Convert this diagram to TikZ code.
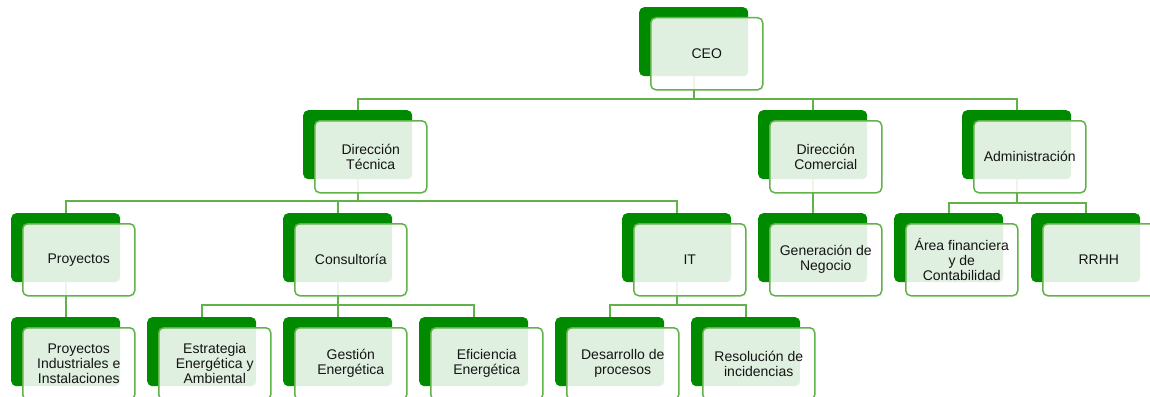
\documentclass[tikz,border=0pt]{standalone}
\usepackage{fontspec}
\setmainfont{Liberation Sans}
\definecolor{darkgr}{RGB}{0,138,0}
\definecolor{linegr}{RGB}{98,178,74}
\definecolor{txtgray}{RGB}{20,20,20}
\tikzset{
  backbox/.style={anchor=north west, minimum width=109pt, minimum height=69pt,
    rounded corners=5pt, fill=darkgr, inner sep=0pt},
  frontbox/.style={anchor=north west, minimum width=112pt, minimum height=72pt,
    rounded corners=5pt, draw=linegr, line width=1.5pt, fill=white,
    fill opacity=0.88, text opacity=1, align=center, text=txtgray, inner sep=0pt,
    font=\fontsize{14}{15}\selectfont},
  link/.style={draw=linegr, line width=1.6pt}
}
% back plate of a box
\newcommand\orgback[3]{\node[backbox] (#1) at (#2,#3) {};}
% front card of a box, shifted down-right from its plate
\newcommand\orgfront[2]{\node[frontbox] (#1-f) at ([xshift=11pt,yshift=-10pt]#1.north west) {#2};}
\begin{document}
\begin{tikzpicture}[x=1pt,y=-1pt]
\useasboundingbox (0,0) rectangle (1150,396);
\fill[white] (0,0) rectangle (1150,396);

% plates
\orgback{ceo}{639}{7}
\orgback{dt}{303}{110}
\orgback{dc}{758}{110}
\orgback{adm}{962}{110}
\orgback{proy}{11}{213}
\orgback{cons}{283}{213}
\orgback{it}{622}{213}
\orgback{gen}{758}{213}
\orgback{afc}{894}{213}
\orgback{rrhh}{1031}{213}
\orgback{pii}{11}{317}
\orgback{est}{147}{317}
\orgback{ges}{283}{317}
\orgback{efi}{419}{317}
\orgback{des}{555}{317}
\orgback{res}{691}{317}

% bus levels
\coordinate (bus0) at (0,99);
\coordinate (bus1) at (0,201);
\coordinate (bus1b) at (0,203);
\coordinate (bus2) at (0,305);

% connectors
\draw[link] (ceo.south) -- (ceo.south |- bus0) -| (dt.north);
\draw[link] (ceo.south |- bus0) -| (dc.north);
\draw[link] (ceo.south |- bus0) -| (adm.north);
\draw[link] (dt.south) -- (dt.south |- bus1) -| (proy.north);
\draw[link] (dt.south |- bus1) -| (cons.north);
\draw[link] (dt.south |- bus1) -| (it.north);
\draw[link] (dc.south) -- (gen.north);
\draw[link] (adm.south) -- (adm.south |- bus1b) -| (afc.north);
\draw[link] (adm.south |- bus1b) -| (rrhh.north);
\draw[link] (proy.south) -- (pii.north);
\draw[link] (cons.south) -- (cons.south |- bus2) -| (est.north);
\draw[link] (cons.south |- bus2) -| (ges.north);
\draw[link] (cons.south |- bus2) -| (efi.north);
\draw[link] (it.south) -- (it.south |- bus2) -| (des.north);
\draw[link] (it.south |- bus2) -| (res.north);

% cards
\orgfront{ceo}{CEO}
\orgfront{dt}{Dirección\\Técnica}
\orgfront{dc}{Dirección\\Comercial}
\orgfront{adm}{Administración}
\orgfront{proy}{Proyectos}
\orgfront{cons}{Consultoría}
\orgfront{it}{IT}
\orgfront{gen}{Generación de\\Negocio}
\orgfront{afc}{Área financiera\\y de\\Contabilidad}
\orgfront{rrhh}{RRHH}
\orgfront{pii}{Proyectos\\Industriales e\\Instalaciones}
\orgfront{est}{Estrategia\\Energética y\\Ambiental}
\orgfront{ges}{Gestión\\Energética}
\orgfront{efi}{Eficiencia\\Energética}
\orgfront{des}{Desarrollo de\\procesos}
\orgfront{res}{Resolución de\\incidencias}
\end{tikzpicture}
\end{document}
